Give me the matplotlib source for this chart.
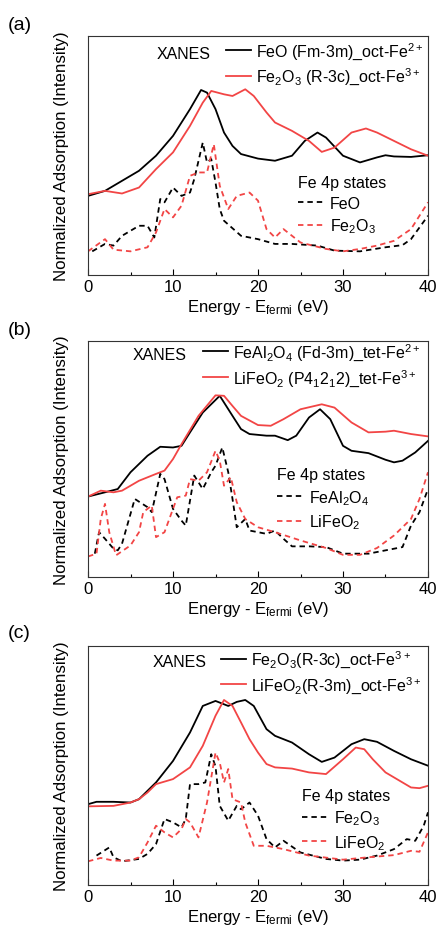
import matplotlib
matplotlib.use("Agg")
import matplotlib.pyplot as plt
from matplotlib.lines import Line2D
from matplotlib.ticker import MultipleLocator

plt.rcParams['font.family'] = ['Liberation Sans', 'DejaVu Sans']
plt.rcParams['mathtext.default'] = 'regular'

RED = '#f24545'

# ---------------- Panel (a) ----------------
a_feo_x = [0, 2, 4, 6, 8, 10, 12, 13.3, 14, 15, 16, 17, 18, 20, 22, 24, 25.5, 27, 28, 30, 32, 34, 35, 36, 38, 40]
a_feo_y = [0.331, 0.352, 0.394, 0.436, 0.499, 0.582, 0.694, 0.774, 0.763, 0.694, 0.596, 0.540, 0.506, 0.487,
           0.478, 0.499, 0.561, 0.596, 0.575, 0.499, 0.471, 0.492, 0.501, 0.496, 0.494, 0.501]
a_fe2o3_x = [0, 2, 4, 6, 8, 10, 12, 13.5, 14.5, 16, 17, 18.5, 19.5, 21, 22, 24, 26, 27.5, 29, 31, 32.7, 34, 36, 38, 40]
a_fe2o3_y = [0.338, 0.352, 0.341, 0.366, 0.443, 0.513, 0.624, 0.721, 0.770, 0.756, 0.749, 0.777, 0.749, 0.680,
             0.638, 0.603, 0.561, 0.515, 0.533, 0.596, 0.613, 0.596, 0.561, 0.526, 0.499]
a_feo4p_x = [0.5, 2, 3, 4, 6, 7, 7.8, 8.5, 9, 10, 11, 12, 12.5, 13.5, 14, 14.5, 15, 15.5, 16, 18, 20, 22, 24, 27,
             29, 32, 35, 37, 38, 40]
a_feo4p_y = [0.099, 0.130, 0.123, 0.164, 0.206, 0.206, 0.157, 0.318, 0.304, 0.366, 0.331, 0.345, 0.401, 0.554,
             0.471, 0.485, 0.387, 0.276, 0.227, 0.164, 0.150, 0.130, 0.130, 0.123, 0.102, 0.099, 0.116, 0.125,
             0.150, 0.248]
a_fe2o34p_x = [0, 2, 3, 5, 7, 8, 9, 10, 11, 12, 13, 14, 14.8, 15.5, 16.5, 17.5, 19, 20, 21, 22, 23, 25, 28, 30,
               32, 34, 36, 38, 40]
a_fe2o34p_y = [0.099, 0.150, 0.106, 0.099, 0.116, 0.178, 0.276, 0.241, 0.290, 0.415, 0.429, 0.429, 0.547, 0.373,
               0.276, 0.331, 0.345, 0.311, 0.192, 0.157, 0.192, 0.136, 0.109, 0.099, 0.109, 0.123, 0.143, 0.192,
               0.304]

# ---------------- Panel (b) ----------------
b_feal_x = [0, 2, 3.5, 5, 7, 8.5, 10, 11, 12, 13.5, 15.5, 17, 18, 19, 21, 22, 23.5, 24.5, 26, 27.3, 28.5, 30, 31,
            33, 35, 36, 37, 38.5, 40]
b_feal_y = [0.341, 0.359, 0.373, 0.444, 0.514, 0.552, 0.549, 0.556, 0.613, 0.697, 0.768, 0.683, 0.627, 0.606,
            0.599, 0.599, 0.580, 0.599, 0.676, 0.711, 0.669, 0.556, 0.535, 0.525, 0.497, 0.486, 0.493, 0.528,
            0.577]
b_life_x = [0, 1.5, 3, 4, 6, 8, 9, 10, 11, 13, 15, 16, 17, 18, 20, 21.5, 23, 25, 27.5, 29, 31, 33, 35, 36, 38, 40]
b_life_y = [0.341, 0.366, 0.359, 0.366, 0.408, 0.437, 0.451, 0.500, 0.563, 0.683, 0.770, 0.768, 0.725, 0.683,
            0.644, 0.641, 0.669, 0.711, 0.732, 0.718, 0.655, 0.613, 0.616, 0.620, 0.606, 0.596]
b_feal4p_x = [0.8, 1.3, 2, 3, 3.5, 4, 5.5, 7, 7.5, 8.5, 9, 10, 11, 11.5, 12.5, 13.5, 14.5, 15, 15.8, 16.5, 17,
              17.5, 18.5, 19, 20, 21, 22, 23, 24, 26, 28, 30, 33, 36, 37, 38, 39, 40]
b_feal4p_y = [0.099, 0.190, 0.162, 0.120, 0.113, 0.141, 0.331, 0.296, 0.275, 0.437, 0.415, 0.289, 0.239, 0.218,
              0.430, 0.373, 0.444, 0.472, 0.549, 0.444, 0.331, 0.211, 0.246, 0.197, 0.190, 0.183, 0.197, 0.162,
              0.130, 0.130, 0.127, 0.099, 0.099, 0.120, 0.127, 0.218, 0.275, 0.373]
b_life4p_x = [0, 1, 1.5, 2, 2.5, 3.3, 5, 6, 6.5, 7.5, 8, 9, 10, 10.5, 11.5, 12, 13, 14, 15, 15.5, 16, 16.8, 17.5,
              18.5, 20, 22, 25, 28, 30, 32, 34, 36, 38, 39, 40]
b_life4p_y = [0.087, 0.099, 0.246, 0.310, 0.190, 0.092, 0.134, 0.190, 0.275, 0.303, 0.169, 0.190, 0.289, 0.338,
              0.345, 0.415, 0.408, 0.444, 0.535, 0.493, 0.387, 0.423, 0.317, 0.246, 0.211, 0.190, 0.155, 0.123,
              0.094, 0.094, 0.123, 0.176, 0.246, 0.331, 0.444]

# ---------------- Panel (c) ----------------
c_fe2o3_x = [0, 1, 3, 5, 6, 8, 10, 12, 13.5, 15, 16.5, 17.5, 18.5, 19.5, 21, 22, 24, 26, 27.5, 29, 31, 32.5, 34,
             36, 38, 40]
c_fe2o3_y = [0.338, 0.348, 0.348, 0.345, 0.359, 0.429, 0.519, 0.638, 0.749, 0.770, 0.749, 0.766, 0.774, 0.749,
             0.652, 0.624, 0.596, 0.547, 0.515, 0.533, 0.589, 0.610, 0.599, 0.561, 0.526, 0.499]
c_life_x = [0, 3, 5, 6, 7, 8, 10, 12, 13.5, 15, 16, 17, 18, 19, 20, 21, 22, 24, 26, 28, 30, 31.5, 32.5, 33.5, 35,
            37, 38, 39, 40]
c_life_y = [0.329, 0.331, 0.345, 0.359, 0.387, 0.422, 0.443, 0.492, 0.582, 0.708, 0.774, 0.749, 0.680, 0.610,
            0.554, 0.506, 0.492, 0.487, 0.471, 0.464, 0.526, 0.575, 0.568, 0.526, 0.471, 0.429, 0.408, 0.405,
            0.415]
c_fe2o34p_x = [1, 2.5, 3, 4, 6, 7, 8, 9, 10, 11, 11.5, 12, 13, 13.8, 14.5, 15, 15.5, 16.5, 17.5, 18, 19, 20, 21,
               22, 23, 25, 28, 30, 32, 34, 36, 37.5, 38.5, 39.5, 40]
c_fe2o34p_y = [0.123, 0.157, 0.116, 0.099, 0.109, 0.130, 0.171, 0.276, 0.262, 0.241, 0.276, 0.422, 0.422, 0.429,
               0.547, 0.496, 0.331, 0.269, 0.331, 0.317, 0.345, 0.290, 0.192, 0.157, 0.185, 0.136, 0.109, 0.102,
               0.106, 0.123, 0.150, 0.192, 0.185, 0.248, 0.304]
c_life4p_x = [0, 1.5, 3, 5, 6, 7, 8, 9, 10, 11, 11.5, 12, 13, 14, 15, 15.5, 16, 16.5, 17, 18, 18.5, 19.5, 21, 23,
              26, 30, 33, 36, 38, 39, 40]
c_life4p_y = [0.099, 0.113, 0.102, 0.102, 0.116, 0.178, 0.248, 0.220, 0.199, 0.234, 0.276, 0.262, 0.199, 0.345,
              0.554, 0.512, 0.429, 0.485, 0.359, 0.345, 0.262, 0.164, 0.164, 0.150, 0.123, 0.106, 0.116, 0.125,
              0.143, 0.139, 0.220]

x_ticks = [0, 10, 20, 30, 40]
xlabel = 'Energy - E$_{fermi}$ (eV)'
ylabel = 'Normalized Adsorption (Intensity)'

panels = [
    dict(tag='(a)', rect=[0.2014, 0.7029, 0.778, 0.2573],
         solid=[(a_feo_x, a_feo_y, 'k', 'FeO (Fm-3m)_oct-Fe$^{2+}$'),
                (a_fe2o3_x, a_fe2o3_y, RED, 'Fe$_2$O$_3$ (R-3c)_oct-Fe$^{3+}$')],
         dashed=[(a_feo4p_x, a_feo4p_y, 'k', 'FeO'),
                 (a_fe2o34p_x, a_fe2o34p_y, RED, 'Fe$_2$O$_3$')],
         xanes=(0.28, 0.928), leg1=(0.405, 0.985), leg2=(0.618, 0.418), tagy=25),
    dict(tag='(b)', rect=[0.2014, 0.3778, 0.778, 0.2540],
         solid=[(b_feal_x, b_feal_y, 'k', 'FeAl$_2$O$_4$ (Fd-3m)_tet-Fe$^{2+}$'),
                (b_life_x, b_life_y, RED, 'LiFeO$_2$ (P4$_1$2$_1$2)_tet-Fe$^{3+}$')],
         dashed=[(b_feal4p_x, b_feal4p_y, 'k', 'FeAl$_2$O$_4$'),
                 (b_life4p_x, b_life4p_y, RED, 'LiFeO$_2$')],
         xanes=(0.212, 0.945), leg1=(0.338, 1.0), leg2=(0.556, 0.465), tagy=331),
    dict(tag='(c)', rect=[0.2014, 0.0463, 0.778, 0.2573],
         solid=[(c_fe2o3_x, c_fe2o3_y, 'k', 'Fe$_2$O$_3$(R-3c)_oct-Fe$^{3+}$'),
                (c_life_x, c_life_y, RED, 'LiFeO$_2$(R-3m)_oct-Fe$^{3+}$')],
         dashed=[(c_fe2o34p_x, c_fe2o34p_y, 'k', 'Fe$_2$O$_3$'),
                 (c_life4p_x, c_life4p_y, RED, 'LiFeO$_2$')],
         xanes=(0.27, 0.936), leg1=(0.39, 0.99), leg2=(0.63, 0.405), tagy=633),
]

fig = plt.figure(figsize=(4.37, 9.29), dpi=100)
for p in panels:
    ax = fig.add_axes(p['rect'])
    h1 = []
    for x, y, c, lab in p['solid']:
        ax.plot(x, y, color=c, lw=1.3)
        h1.append(Line2D([], [], color=c, lw=1.3, label=lab))
    h2 = []
    for x, y, c, lab in p['dashed']:
        ax.plot(x, y, color=c, lw=1.3, linestyle=(0, (3.0, 2.2)))
        h2.append(Line2D([], [], color=c, lw=1.3, linestyle=(0, (3.0, 2.2)), label=lab))
    ax.set_xlim(0, 40)
    ax.set_ylim(0, 1)
    ax.set_yticks([])
    ax.set_xticks(x_ticks)
    ax.xaxis.set_minor_locator(MultipleLocator(5))
    ax.tick_params(axis='x', which='major', direction='in', length=4, width=0.8, labelsize=12, pad=3)
    ax.tick_params(axis='x', which='minor', direction='in', length=2, width=0.8)
    for s in ax.spines.values():
        s.set_linewidth(0.8)
        s.set_color('#333333')
    ax.set_xlabel(xlabel, fontsize=12, labelpad=2)
    ax.set_ylabel(ylabel, fontsize=12.2, labelpad=14)
    ax.text(p['xanes'][0], p['xanes'][1], 'XANES', transform=ax.transAxes,
            fontsize=11.5, ha='center', va='center')
    l1 = ax.legend(handles=h1, loc='upper left', bbox_to_anchor=p['leg1'], frameon=False,
                   fontsize=11.5, handlelength=1.6, handletextpad=0.3, labelspacing=0.3,
                   borderpad=0, borderaxespad=0)
    ax.add_artist(l1)
    ax.legend(handles=h2, loc='upper left', bbox_to_anchor=p['leg2'], frameon=False,
              fontsize=11.5, handlelength=1.6, handletextpad=0.4, labelspacing=0.35,
              borderpad=0, borderaxespad=0, title='Fe 4p states', title_fontsize=11.5,
              alignment='left')
    fig.text(8 / 437, 1 - p['tagy'] / 929, p['tag'], fontsize=14, ha='left', va='center')

fig.savefig('out.png', dpi=100)
